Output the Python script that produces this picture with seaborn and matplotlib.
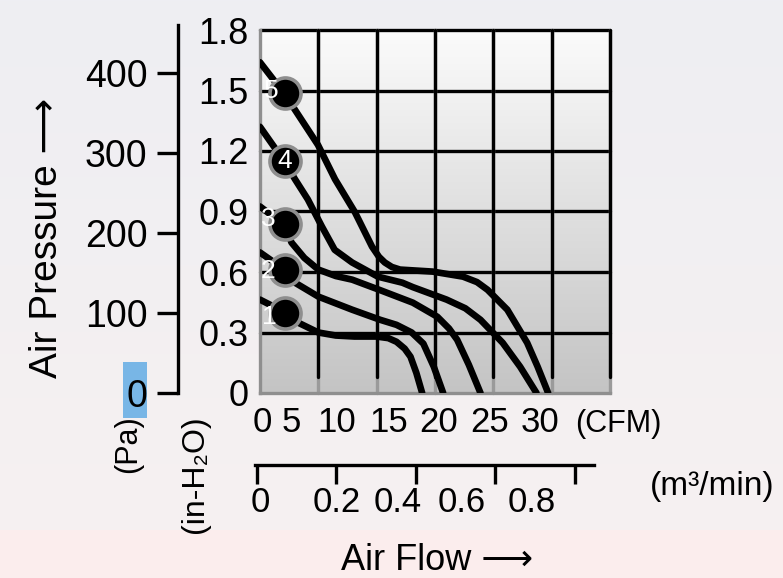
import numpy as np
import pandas as pd
import matplotlib
matplotlib.use("Agg")
import matplotlib.pyplot as plt
import seaborn as sns
from matplotlib.patches import Rectangle

sns.set_theme(style="white")
plt.rcParams["font.family"] = ["Liberation Sans", "DejaVu Sans"]
plt.rcParams["text.color"] = "black"
plt.rcParams["xtick.color"] = "black"
plt.rcParams["ytick.color"] = "black"
plt.rcParams["axes.labelcolor"] = "black"

# ---------------- data (CFM vs in-H2O) ----------------
curve_ids = ["1", "2", "3", "4", "5"]
c1_x = [0, 2.14, 3.3, 5.0, 6.5, 8.1, 10.0, 11.0, 11.7, 12.4, 12.9, 13.4, 13.9]
c1_y = [0.463, 0.40, 0.348, 0.30, 0.285, 0.28, 0.28, 0.272, 0.254, 0.22, 0.18, 0.10, 0.0]
c2_x = [0, 2.14, 3.0, 5.0, 7.9, 10.3, 11.7, 13.0, 14.0, 14.9, 15.7]
c2_y = [0.697, 0.61, 0.547, 0.478, 0.413, 0.363, 0.338, 0.30, 0.245, 0.13, 0.0]
c3_x = [0, 2.14, 2.7, 3.8, 5.0, 6.5, 7.9, 10.3, 13.1, 15.2, 16.2, 16.9, 17.9, 18.9]
c3_y = [0.925, 0.83, 0.746, 0.67, 0.612, 0.58, 0.562, 0.51, 0.448, 0.378, 0.32, 0.264, 0.14, 0.0]
c4_x = [0, 2.14, 3.0, 4.1, 5.3, 6.4, 7.9, 10.1, 12.2, 13.1, 16.0, 17.6, 18.9, 20.8, 22.3, 23.7]
c4_y = [1.32, 1.144, 1.06, 0.96, 0.826, 0.71, 0.647, 0.577, 0.547, 0.525, 0.463, 0.42, 0.363, 0.249, 0.13, 0.0]
c5_x = [0, 2.14, 4.97, 6.43, 8.14, 9.6, 10.2, 10.7, 11.3, 12.0, 14.8, 17.4, 18.6, 19.5, 21.2, 22.9, 23.8, 24.7]
c5_y = [1.64, 1.48, 1.23, 1.06, 0.896, 0.726, 0.675, 0.647, 0.625, 0.612, 0.602, 0.577, 0.55, 0.512, 0.413, 0.249, 0.13, 0.0]

dot_cfm = [2.14, 2.14, 2.14, 2.14, 2.14]
dot_inh2o = [0.398, 0.612, 0.836, 1.149, 1.49]

inh2o_ticks = [0, 0.3, 0.6, 0.9, 1.2, 1.5, 1.8]
inh2o_labels = ["0", "0.3", "0.6", "0.9", "1.2", "1.5", "1.8"]
pa_ticks = [0, 100, 200, 300, 400]
cfm_grid = [5, 10, 15, 20, 25, 30]
cfm_labels = ["0", "5", "10", "15", "20", "25", "30"]
m3_ticks = [0, 0.2, 0.4, 0.6, 0.8]
m3_labels = ["0", "0.2", "0.4", "0.6", "0.8"]

rows = []
for cid, xs, ys in zip(curve_ids, [c1_x, c2_x, c3_x, c4_x, c5_x], [c1_y, c2_y, c3_y, c4_y, c5_y]):
    for a, b in zip(xs, ys):
        rows.append({"fan": cid, "cfm": a, "inh2o": b})
df = pd.DataFrame(rows)
dots = pd.DataFrame({"fan": curve_ids, "cfm": dot_cfm, "inh2o": dot_inh2o})

# ---------------- figure ----------------
W, H = 783, 578
fig = plt.figure(figsize=(W / 100, H / 100), dpi=100)

def fx(px):
    return px / W

def fy(py):
    return 1 - py / H

# background gradient
bg = fig.add_axes([0, 0, 1, 1], zorder=-10)
bg.axis("off")
grad = np.zeros((H, 1, 3))
for i in range(H):
    if i < 530:
        t = i / 530
        c0 = np.array([238, 238, 243]); c1 = np.array([246, 241, 241])
        grad[i, 0] = (c0 + (c1 - c0) * t) / 255
    else:
        grad[i, 0] = np.array([251, 237, 237]) / 255
bg.imshow(grad, aspect="auto", extent=[0, 1, 0, 1])
bg.set_xlim(0, 1); bg.set_ylim(0, 1)

# main axes
L, R, T, B = 260, 610, 30, 393
ax = fig.add_axes([fx(L), fy(B), (R - L) / W, (B - T) / H])
ax.set_xlim(0, 30)
ax.set_ylim(0, 1.8)
top_c = np.array([251, 251, 251]) / 255
bot_c = np.array([196, 196, 196]) / 255
img = bot_c + (top_c - bot_c) * (1 - np.linspace(0, 1, 256))[:, None]
ax.imshow(img.reshape(256, 1, 3), aspect="auto", extent=[0, 30, 0, 1.8], zorder=0)

for yv in inh2o_ticks[1:]:
    ax.axhline(yv, color="black", lw=2.4, zorder=1, clip_on=False)
for xv in cfm_grid:
    ax.axvline(xv, color="#9a9a9a", lw=2.4, zorder=1, clip_on=False)
    ax.axvline(xv, ymin=0.045, ymax=1, color="black", lw=2.4, zorder=1, clip_on=False)

sns.lineplot(data=df, x="cfm", y="inh2o", hue="fan", units="fan", estimator=None,
             sort=False, palette=["black"] * 5, legend=False, lw=4.8, ax=ax, zorder=3)
for ln in ax.lines[-5:]:
    ln.set_solid_joinstyle("round")
sns.scatterplot(data=dots, x="cfm", y="inh2o", s=500, color="black",
                edgecolor="#8e8e8e", linewidth=2.6, legend=False, ax=ax, zorder=4)

num_offsets = [(-11, -3), (-12, -1), (-12, 4), (0, 0), (-10, 1)]
for cid, xv, yv, off in zip(curve_ids, dot_cfm, dot_inh2o, num_offsets):
    ax.annotate(cid, (xv, yv), xytext=off, textcoords="offset points",
                ha="center", va="center", color="white", fontsize=19, zorder=6,
                annotation_clip=False)

for s in ["top", "right"]:
    ax.spines[s].set_visible(False)
for s in ["left", "bottom"]:
    ax.spines[s].set_visible(True)
    ax.spines[s].set_color("#8f8f8f")
    ax.spines[s].set_linewidth(2.4)
ax.set_yticks(inh2o_ticks)
ax.set_yticklabels(inh2o_labels, fontsize=26)
ax.tick_params(axis="y", length=0, pad=8, colors="black")
ax.set_xticks([])
ax.set_xlabel(""); ax.set_ylabel("")

# Pa axis
pa_top = 25
axp = fig.add_axes([fx(178), fy(B), 0.0005, (B - pa_top) / H])
axp.set_ylim(0, (B - pa_top) / 0.8)
axp.patch.set_alpha(0)
for s in ["top", "right", "bottom"]:
    axp.spines[s].set_visible(False)
axp.spines["left"].set_visible(True)
axp.spines["left"].set_color("black")
axp.spines["left"].set_linewidth(2.4)
axp.set_xticks([])
axp.set_yticks(pa_ticks)
axp.set_yticklabels([str(v) for v in pa_ticks], fontsize=27)
axp.tick_params(axis="y", direction="out", length=15, width=2.4, pad=7, colors="black", left=True)

# highlight behind "0"
fig.patches.append(Rectangle((fx(123), fy(418)), 24 / W, 56 / H, transform=fig.transFigure,
                             facecolor="#78b6e6", edgecolor="none", zorder=-5))

# m3/min axis
axm = fig.add_axes([fx(255), fy(465), 339 / W, 0.0001])
axm.set_xlim(-2 / 397.5, 337 / 397.5)
axm.patch.set_alpha(0)
for s in ["top", "right", "left"]:
    axm.spines[s].set_visible(False)
axm.spines["bottom"].set_visible(True)
axm.spines["bottom"].set_color("black")
axm.spines["bottom"].set_linewidth(2.4)
axm.set_yticks([])
axm.set_xticks(m3_ticks)
axm.set_xticklabels([])
axm.tick_params(axis="x", direction="out", length=14, width=2.4, colors="black", bottom=True)

# text labels
cfm_px = [262, 291, 337, 389, 439, 490, 540]
for lab, px in zip(cfm_labels, cfm_px):
    fig.text(fx(px), fy(423), lab, ha="center", va="center", fontsize=25)
fig.text(fx(575), fy(424), "(CFM)", ha="left", va="center", fontsize=22)

m3_px = [260, 337, 398, 462, 532]
for lab, px in zip(m3_labels, m3_px):
    fig.text(fx(px), fy(502), lab, ha="center", va="center", fontsize=25)
fig.text(fx(650), fy(487), "(m³/min)", ha="left", va="center", fontsize=24)

fig.text(fx(437), fy(560), "Air Flow ⟶", ha="center", va="center", fontsize=26)
fig.text(fx(47), fy(238), "Air Pressure ⟶", ha="center", va="center", rotation=90, fontsize=28)
fig.text(fx(128), fy(444), "(Pa)", ha="center", va="center", rotation=90, fontsize=22)
fig.text(fx(195), fy(474), "(in-H₂O)", ha="center", va="center", rotation=90, fontsize=23)

fig.savefig("out.png", dpi=100)
